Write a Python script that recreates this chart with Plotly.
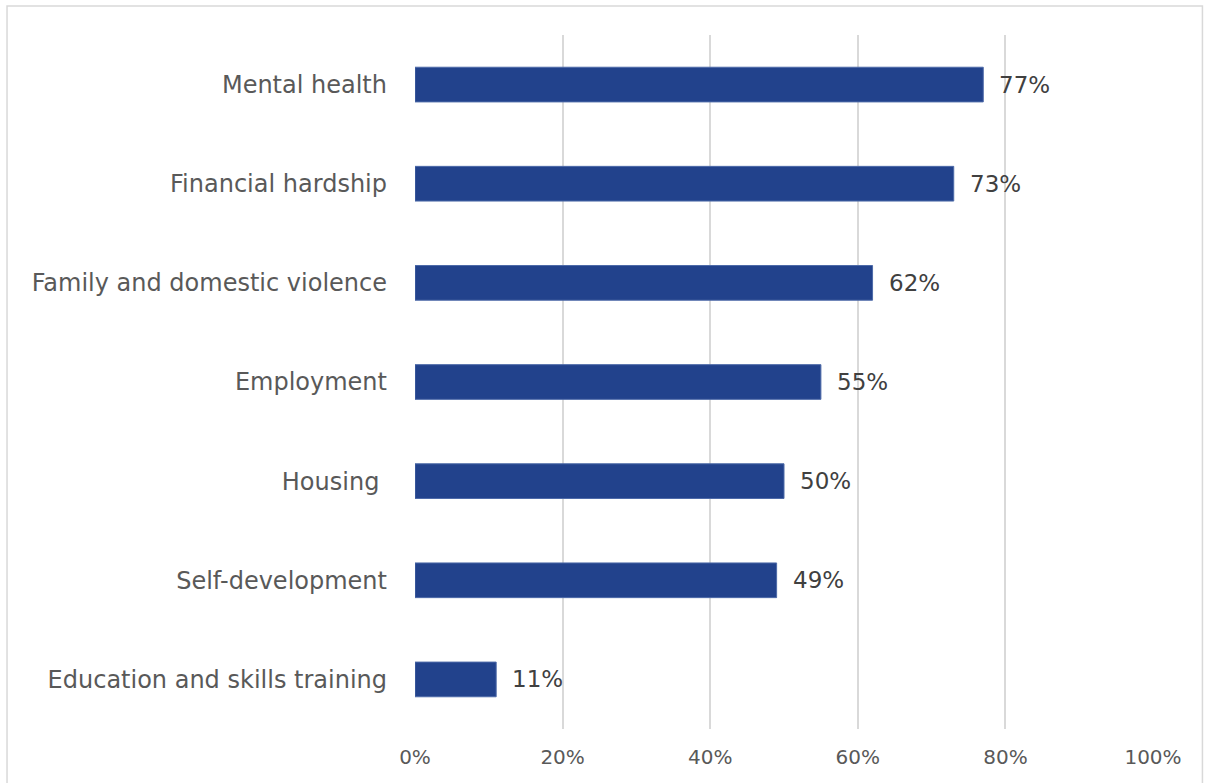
import plotly.graph_objects as go

categories = [
    "Mental health",
    "Financial hardship",
    "Family and domestic violence",
    "Employment",
    "Housing\u00a0",
    "Self-development",
    "Education and skills training",
]
shares = [77, 73, 62, 55, 50, 49, 11]
tick_values = [0, 20, 40, 60, 80, 100]
tick_labels = ["0%", "20%", "40%", "60%", "80%", "100%"]

BAR_COLOR = "#22428c"
FONT = "DejaVu Sans, Verdana, sans-serif"

fig = go.Figure(
    go.Bar(
        x=shares,
        y=categories,
        orientation="h",
        marker=dict(color=BAR_COLOR, line=dict(color="#4d6aa8", width=1)),
        width=0.35,
        hoverinfo="skip",
    )
)

# value labels to the right of each bar
for cat, val in zip(categories, shares):
    fig.add_annotation(
        x=val, y=cat, text=f"{val}%", showarrow=False,
        xanchor="left", xshift=14,
        font=dict(family=FONT, size=23, color="#404040"),
    )

# light frame around the whole chart
fig.add_shape(
    type="rect", xref="paper", yref="paper",
    x0=-0.5528, x1=1.067, y0=-0.1, y1=1.0418,
    line=dict(color="#d9d9d9", width=1.5), layer="below",
)

fig.update_layout(
    width=1205, height=783,
    margin=dict(l=415, r=52, t=35, b=54),
    plot_bgcolor="white", paper_bgcolor="white",
    showlegend=False,
    xaxis=dict(
        range=[0, 100], tickvals=tick_values, ticktext=tick_labels,
        showgrid=True, gridcolor="#d9d9d9", gridwidth=1.5,
        zeroline=False, showline=False, ticks="",
        ticklabelstandoff=14,
        tickfont=dict(family=FONT, size=20, color="#595959"),
        fixedrange=True,
    ),
    yaxis=dict(
        categoryorder="array", categoryarray=categories[::-1],
        showgrid=False, zeroline=False, showline=False, ticks="",
        ticklabelstandoff=27,
        tickfont=dict(family=FONT, size=24, color="#595959"),
        fixedrange=True,
    ),
)

fig.write_html("out.html")
